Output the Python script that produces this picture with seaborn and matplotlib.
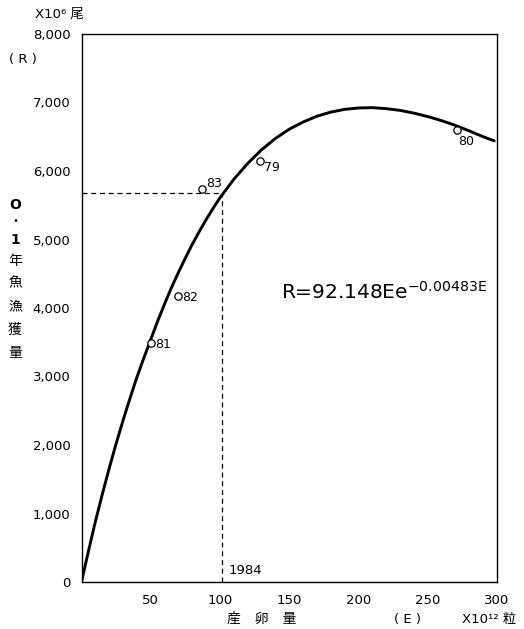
import matplotlib
matplotlib.use("Agg")
import matplotlib.pyplot as plt
import seaborn as sns
import pandas as pd

# Ricker curve values (E in 10^12 eggs, R in 10^6 fish)
curve_E = [0, 5, 10, 15, 20, 25, 30, 35, 40, 45, 50, 55, 60, 65, 70, 75, 80, 85, 90, 95,
           100, 110, 120, 130, 140, 150, 160, 170, 180, 190, 200, 210, 220, 230, 240,
           250, 260, 270, 280, 290, 298]
curve_R = [0, 450, 880, 1280, 1660, 2020, 2360, 2680, 2990, 3270, 3540, 3810, 4060,
           4300, 4520, 4730, 4930, 5115, 5290, 5455, 5610, 5880, 6110, 6310, 6475,
           6610, 6715, 6800, 6860, 6900, 6920, 6925, 6910, 6885, 6845, 6795, 6735,
           6665, 6585, 6500, 6440]

# Observed points
obs_E = [50, 70, 87, 129, 271]
obs_R = [3490, 4180, 5730, 6140, 6600]
obs_lab = ["81", "82", "83", "79", "80"]

# 1984 reference
ref_E = 101.6
ref_R = 5680

xticks = [50, 100, 150, 200, 250, 300]
yticks = [0, 1000, 2000, 3000, 4000, 5000, 6000, 7000, 8000]
ytick_labels = ["0", "1,000", "2,000", "3,000", "4,000", "5,000", "6,000", "7,000", "8,000"]

sns.set_theme(style="white")
plt.rcParams['font.family'] = ['DejaVu Sans', 'Noto Sans CJK JP']
plt.rcParams['text.color'] = 'black'
plt.rcParams['xtick.color'] = 'black'
plt.rcParams['ytick.color'] = 'black'
plt.rcParams['axes.labelcolor'] = 'black'
plt.rcParams['mathtext.default'] = 'regular'
plt.rcParams['mathtext.fontset'] = 'dejavusans'

fig = plt.figure(figsize=(5.24, 6.29), dpi=100)
ax = fig.add_axes([81.5/524, 47/629, (497-81.5)/524, (582-34)/629])

df_curve = pd.DataFrame({"E": curve_E, "R": curve_R})
sns.lineplot(data=df_curve, x="E", y="R", ax=ax, color="black", linewidth=2.1,
             sort=False, estimator=None)

df_obs = pd.DataFrame({"E": obs_E, "R": obs_R})
sns.scatterplot(data=df_obs, x="E", y="R", ax=ax, marker="o", s=28,
                facecolor="white", edgecolor="black", linewidth=0.9, zorder=3)

# dashed guides
ax.plot([0, ref_E], [ref_R, ref_R], color="black", linestyle=(0, (4, 3)), linewidth=0.9)
ax.plot([ref_E, ref_E], [0, ref_R], color="black", linestyle=(0, (4, 3)), linewidth=0.9)

ax.set_xlim(0, 300)
ax.set_ylim(0, 8000)
ax.set_xticks(xticks)
ax.set_xticklabels([str(t) for t in xticks], fontsize=9.5)
ax.set_yticks(yticks)
ax.set_yticklabels(ytick_labels, fontsize=9.5)
ax.tick_params(axis="both", direction="in", length=5, width=0.9, color="black",
               labelcolor="black")
ax.tick_params(axis="x", pad=9)
ax.tick_params(axis="y", pad=8)
ax.get_yticklabels()[0].set_y(-80)
ax.set_xlabel("")
ax.set_ylabel("")
for sp in ax.spines.values():
    sp.set_color("black")
    sp.set_linewidth(1.0)

# point labels
offsets = {"81": (4, -2), "82": (4, -2), "83": (4, 6), "79": (4, -6), "80": (1, -12)}
for e, r, lab in zip(obs_E, obs_R, obs_lab):
    dx, dy = offsets[lab]
    ax.annotate(lab, (e, r), xytext=(dx, dy), textcoords="offset pixels",
                fontsize=9, ha="left", va="center")

ax.annotate("1984", (ref_E, 0), xytext=(6, 12), textcoords="offset pixels",
            fontsize=9.5, ha="left", va="center")

# equation
fig.text(281/524, 1 - 292/629, r"R=92.148Ee$^{-0.00483E}$", fontsize=14.5,
         ha="left", va="center", family="DejaVu Sans")

# top-left unit and axis label
fig.text(35/524, 1 - 14/629, "X10⁶ 尾", fontsize=9.5, ha="left", va="center")
fig.text(9/524, 1 - 60/629, "( R )", fontsize=9.5, ha="left", va="center")

ychars = ["O", "・", "1", "年", "魚", "漁", "獲", "量"]
ypos = [205, 222, 240, 261, 283, 307, 330, 353]
for ch, yp in zip(ychars, ypos):
    fig.text(15/524, 1 - yp/629, ch, fontsize=10, ha="center", va="center",
             fontweight="bold" if ch in ("O", "1") else "normal")

# bottom labels
fig.text(262/524, 1 - 619/629, "産　卵　量", fontsize=10, ha="center", va="center")
fig.text(408/524, 1 - 619/629, "( E )", fontsize=9.5, ha="center", va="center")
fig.text(462/524, 1 - 619/629, "X10¹² 粒", fontsize=9.5, ha="left", va="center")

fig.savefig("out.png", dpi=100)
